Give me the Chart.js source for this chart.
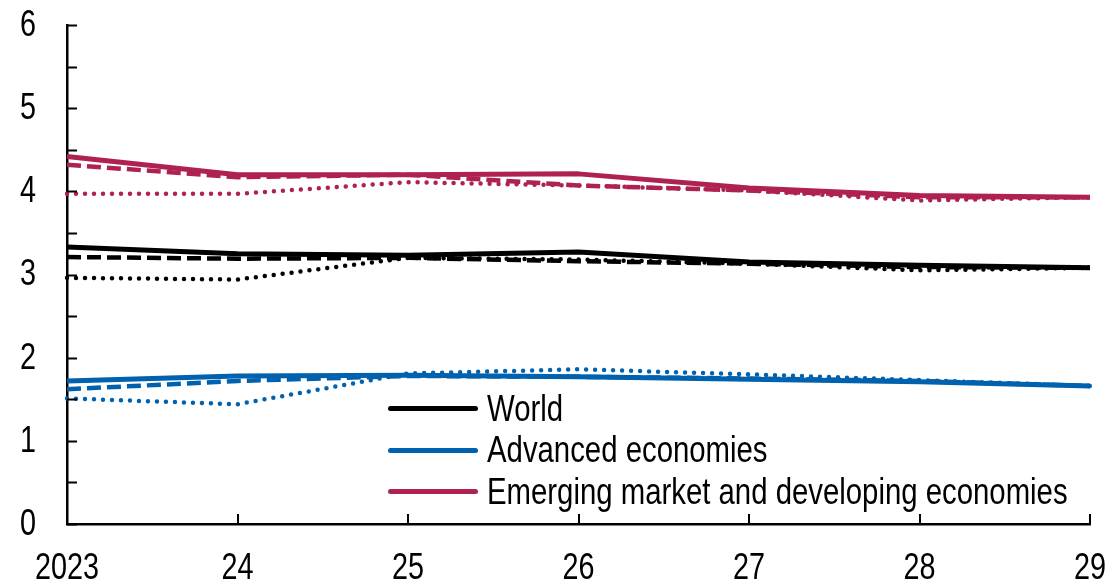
<!DOCTYPE html>
<html lang="en">
<head>
    <meta charset="UTF-8">
    <title>Growth projections</title>
    <script src="https://cdn.jsdelivr.net/npm/chart.js"></script>
    <style>
        body {
            margin: 0;
            padding: 0;
            background-color: #ffffff;
            font-family: 'Liberation Sans', Arial, sans-serif;
        }
        #wrap {
            position: relative;
            width: 1112px;
            height: 587px;
        }
        #legend {
            position: absolute;
            left: 388px;
            top: 388px;
            font-size: 36px;
            color: #000;
        }
        .row {
            display: flex;
            align-items: center;
            height: 41.5px;
            white-space: nowrap;
        }
        .swatch {
            width: 90px;
            height: 5px;
            border-radius: 3px;
            margin-right: 9px;
            flex: none;
        }
        .txt {
            display: inline-block;
            transform: scaleX(0.815);
            transform-origin: left center;
        }
    </style>
</head>
<body>
    <div id="wrap">
        <canvas id="growthChart" width="1112" height="587"></canvas>
        <div id="legend"></div>
    </div>
    <script>
        const years = ['2023', '24', '25', '26', '27', '28', '29'];

        // solid = latest, dashed = previous, dotted = earlier vintage
        const worldNow  = [3.33, 3.25, 3.23, 3.27, 3.15, 3.11, 3.08];
        const worldPrev = [3.21, 3.19, 3.20, 3.16, 3.13, 3.09, 3.08];
        const worldOld  = [2.96, 2.94, 3.20, 3.18, 3.13, 3.05, 3.08];

        const advNow  = [1.72, 1.78, 1.79, 1.77, 1.74, 1.71, 1.66];
        const advPrev = [1.62, 1.72, 1.78, 1.77, 1.75, 1.72, 1.66];
        const advOld  = [1.51, 1.44, 1.81, 1.86, 1.80, 1.73, 1.66];

        const emdeNow  = [4.42, 4.20, 4.20, 4.21, 4.04, 3.95, 3.93];
        const emdePrev = [4.32, 4.17, 4.20, 4.07, 4.01, 3.93, 3.93];
        const emdeOld  = [3.97, 3.97, 4.11, 4.07, 4.01, 3.89, 3.93];

        const BLACK = '#000000';
        const BLUE = '#0062AF';
        const RED = '#AE2150';
        const FONT = "36px 'Liberation Sans', Arial, sans-serif";
        const NARROW = 0.8; // squeeze to look like a narrow face

        function solid(label, data, color) {
            return { label, data, borderColor: color, borderWidth: 5, legend: true, order: 1 };
        }
        function dashed(label, data, color) {
            return { label, data, borderColor: color, borderWidth: 4.5, borderDash: [14, 6], order: 2 };
        }
        function dotted(label, data, color) {
            return { label, data, borderColor: color, borderWidth: 4.5, borderDash: [0, 9], borderCapStyle: 'round', order: 3 };
        }

        const datasets = [
            solid('World', worldNow, BLACK),
            solid('Advanced economies', advNow, BLUE),
            solid('Emerging market and developing economies', emdeNow, RED),
            dashed('World (previous)', worldPrev, BLACK),
            dashed('Advanced economies (previous)', advPrev, BLUE),
            dashed('Emerging market and developing economies (previous)', emdePrev, RED),
            dotted('World (earlier)', worldOld, BLACK),
            dotted('Advanced economies (earlier)', advOld, BLUE),
            dotted('Emerging market and developing economies (earlier)', emdeOld, RED),
        ];

        // inward tick marks and narrow tick labels, placed by the scales
        const axisDecor = {
            id: 'axisDecor',
            afterDraw(chart) {
                const ctx = chart.ctx;
                const x = chart.scales.x;
                const y = chart.scales.y;
                const area = chart.chartArea;
                ctx.save();
                ctx.strokeStyle = '#000';
                ctx.lineWidth = 2;
                y.ticks.forEach((t, i) => {
                    const py = Math.round(y.getPixelForTick(i)) + 0.5;
                    ctx.beginPath();
                    ctx.moveTo(area.left, py);
                    ctx.lineTo(area.left + 10, py);
                    ctx.stroke();
                });
                x.ticks.forEach((t, i) => {
                    const px = Math.round(x.getPixelForTick(i));
                    ctx.beginPath();
                    ctx.moveTo(px, area.bottom);
                    ctx.lineTo(px, area.bottom - 10);
                    ctx.stroke();
                });

                ctx.fillStyle = '#000';
                ctx.font = FONT;
                ctx.textBaseline = 'middle';
                ctx.textAlign = 'right';
                y.ticks.forEach((t, i) => {
                    if (!Number.isInteger(t.value)) return;
                    ctx.save();
                    ctx.translate(area.left - 31, y.getPixelForTick(i) + 1);
                    ctx.scale(NARROW, 1);
                    ctx.fillText(String(t.value), 0, 0);
                    ctx.restore();
                });
                ctx.textAlign = 'center';
                x.ticks.forEach((t, i) => {
                    ctx.save();
                    ctx.translate(x.getPixelForTick(i), area.bottom + 45);
                    ctx.scale(NARROW, 1);
                    ctx.fillText(years[i], 0, 0);
                    ctx.restore();
                });
                ctx.restore();
            }
        };

        const chart = new Chart(document.getElementById('growthChart'), {
            type: 'line',
            data: { labels: years, datasets: datasets },
            options: {
                responsive: false,
                animation: false,
                layout: { padding: { left: 67, right: 22, top: 25, bottom: 63 } },
                elements: {
                    point: { radius: 0 },
                    line: { tension: 0, fill: false, borderJoinStyle: 'round' }
                },
                plugins: {
                    legend: { display: false },
                    tooltip: { enabled: false }
                },
                scales: {
                    x: {
                        offset: false,
                        grid: { display: false, drawTicks: false },
                        border: { color: '#000', width: 2.5 },
                        ticks: { display: false, autoSkip: false }
                    },
                    y: {
                        min: 0,
                        max: 6,
                        grid: { display: false, drawTicks: false },
                        border: { color: '#000', width: 2.5 },
                        ticks: { display: false, stepSize: 0.5 }
                    }
                }
            },
            plugins: [axisDecor]
        });

        const legend = document.getElementById('legend');
        datasets.filter(d => d.legend).forEach(d => {
            const row = document.createElement('div');
            row.className = 'row';
            const sw = document.createElement('span');
            sw.className = 'swatch';
            sw.style.background = d.borderColor;
            const txt = document.createElement('span');
            txt.className = 'txt';
            txt.textContent = d.label;
            row.appendChild(sw);
            row.appendChild(txt);
            legend.appendChild(row);
        });
    </script>
</body>
</html>
